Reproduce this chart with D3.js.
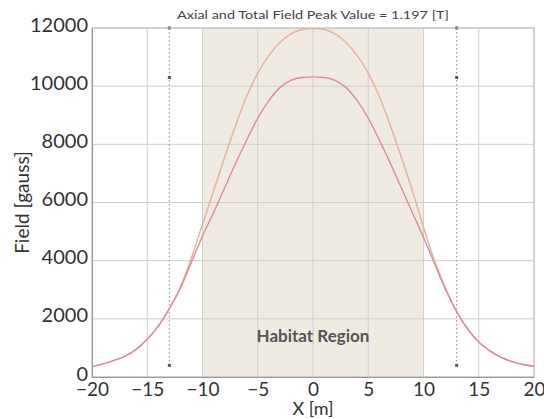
<!DOCTYPE html>
<html>
<head>
<meta charset="utf-8">
<script src="https://cdn.jsdelivr.net/npm/d3@7"></script>
<style>
  body { margin: 0; background: #fff; }
  text { font-family: Lato, "Open Sans", sans-serif; }
</style>
</head>
<body>
<div id="wrapper"></div>
<script>
// positions along the axis [m]
const xValues = [-20, -19, -18, -17, -16, -15, -14, -13, -12, -11, -10, -9, -8, -7, -6, -5, -4, -3, -2, -1,
  0, 1, 2, 3, 4, 5, 6, 7, 8, 9, 10, 11, 12, 13, 14, 15, 16, 17, 18, 19, 20]
// total field [gauss]
const totalField = [350, 450, 570, 720, 950, 1300, 1750, 2350, 3100, 4100, 5250, 6400, 7550, 8650, 9650, 10450, 11050, 11500, 11800, 11950,
  11980, 11950, 11800, 11500, 11050, 10450, 9650, 8650, 7550, 6400, 5150, 4000, 3050, 2250, 1650, 1200, 900, 680, 530, 430, 370]
// axial field [gauss]
const axialField = [350, 450, 570, 720, 950, 1300, 1750, 2350, 3050, 3950, 4850, 5650, 6500, 7350, 8150, 8900, 9500, 9950, 10200, 10300,
  10320, 10300, 10200, 9950, 9500, 8900, 8150, 7350, 6500, 5650, 4800, 3900, 3000, 2250, 1650, 1200, 900, 680, 530, 430, 370]

const xTicks = [-20, -15, -10, -5, 0, 5, 10, 15, 20]
const yTicks = [0, 2000, 4000, 6000, 8000, 10000, 12000]
const habitat = [-10, 10]
const markerX = [-13, 13]
const markerValues = [12000, 10300, 400]

const dimensions = {
  width: 544,
  height: 419,
  margin: { top: 28, right: 10, bottom: 42, left: 92 },
}
dimensions.boundedWidth = dimensions.width - dimensions.margin.left - dimensions.margin.right
dimensions.boundedHeight = dimensions.height - dimensions.margin.top - dimensions.margin.bottom

const svg = d3.select("#wrapper").append("svg")
  .attr("width", dimensions.width)
  .attr("height", dimensions.height)

const bounds = svg.append("g")
  .attr("transform", `translate(${dimensions.margin.left},${dimensions.margin.top})`)

const xScale = d3.scaleLinear()
  .domain([-20, 20])
  .range([0, dimensions.boundedWidth])

const yScale = d3.scaleLinear()
  .domain([0, 12000])
  .range([dimensions.boundedHeight, 0])

// habitat shading
bounds.append("rect")
  .attr("x", xScale(habitat[0]))
  .attr("y", 0)
  .attr("width", xScale(habitat[1]) - xScale(habitat[0]))
  .attr("height", dimensions.boundedHeight)
  .attr("fill", "#efebe3")

// grid
bounds.selectAll(".vgrid")
  .data(xTicks)
  .join("line")
    .attr("x1", d => xScale(d)).attr("x2", d => xScale(d))
    .attr("y1", 0).attr("y2", dimensions.boundedHeight)
    .attr("stroke", "#cfcfcf")
    .attr("stroke-width", 1)

bounds.selectAll(".hgrid")
  .data(yTicks)
  .join("line")
    .attr("x1", 0).attr("x2", dimensions.boundedWidth)
    .attr("y1", d => yScale(d)).attr("y2", d => yScale(d))
    .attr("stroke", "#cfcfcf")
    .attr("stroke-width", 1)

// dotted marker lines
markerX.forEach(mx => {
  bounds.append("line")
    .attr("x1", xScale(mx)).attr("x2", xScale(mx))
    .attr("y1", yScale(markerValues[0])).attr("y2", yScale(markerValues[2]))
    .attr("stroke", "#8a8a8a")
    .attr("stroke-width", 1)
    .attr("stroke-dasharray", "1.5,2.5")
  bounds.selectAll(null)
    .data(markerValues)
    .join("rect")
      .attr("x", xScale(mx) - 1.5)
      .attr("y", d => yScale(d) - 1.5)
      .attr("width", 3).attr("height", 3)
      .attr("fill", "#555")
})

const lineGenerator = d3.line()
  .x((d, i) => xScale(xValues[i]))
  .y(d => yScale(d))
  .curve(d3.curveMonotoneX)

bounds.append("path")
  .attr("d", lineGenerator(totalField))
  .attr("fill", "none")
  .attr("stroke", "#e8b096")
  .attr("stroke-width", 1.4)

bounds.append("path")
  .attr("d", lineGenerator(axialField))
  .attr("fill", "none")
  .attr("stroke", "#e08a96")
  .attr("stroke-width", 1.4)

// frame
bounds.append("rect")
  .attr("width", dimensions.boundedWidth)
  .attr("height", dimensions.boundedHeight)
  .attr("fill", "none")
  .attr("stroke", "#bdbdbd")
  .attr("stroke-width", 1)

// axes
const xAxis = bounds.append("g")
  .attr("transform", `translate(0,${dimensions.boundedHeight})`)
  .call(d3.axisBottom(xScale).tickValues(xTicks).tickSize(0).tickPadding(6).tickFormat(d3.format("d")))
xAxis.select(".domain").attr("stroke", "#999")
xAxis.selectAll("text")
  .attr("font-size", 19)
  .attr("fill", "#333")
  .attr("font-family", "Lato, sans-serif")

const yAxis = bounds.append("g")
  .call(d3.axisLeft(yScale).tickValues(yTicks).tickSize(0).tickPadding(4).tickFormat(d3.format("d")))
yAxis.select(".domain").attr("stroke", "#999")
yAxis.selectAll("text")
  .attr("font-size", 20)
  .attr("dy", "0.15em")
  .attr("fill", "#333")
  .attr("font-family", "Lato, sans-serif")

// labels
svg.append("text")
  .attr("x", xScale(0) + dimensions.margin.left)
  .attr("y", 19)
  .attr("text-anchor", "middle")
  .attr("font-size", 12)
  .attr("textLength", 272)
  .attr("lengthAdjust", "spacingAndGlyphs")
  .attr("fill", "#444")
  .attr("font-family", "Liberation Sans Narrow, Arial, sans-serif")
  .text("Axial and Total Field Peak Value = 1.197 [T]")

svg.append("text")
  .attr("x", xScale(0) + dimensions.margin.left)
  .attr("y", 415)
  .attr("text-anchor", "middle")
  .attr("font-size", 18)
  .attr("fill", "#333")
  .text("X [m]")

svg.append("text")
  .attr("transform", `translate(29,${dimensions.margin.top + yScale(6000)}) rotate(-90)`)
  .attr("text-anchor", "middle")
  .attr("font-size", 19)
  .attr("fill", "#333")
  .attr("font-family", "Open Sans, sans-serif")
  .text("Field [gauss]")

bounds.append("text")
  .attr("x", xScale(0))
  .attr("y", yScale(1200))
  .attr("text-anchor", "middle")
  .attr("font-size", 17)
  .attr("font-weight", "bold")
  .attr("fill", "#555")
  .text("Habitat Region")
</script>
</body>
</html>
